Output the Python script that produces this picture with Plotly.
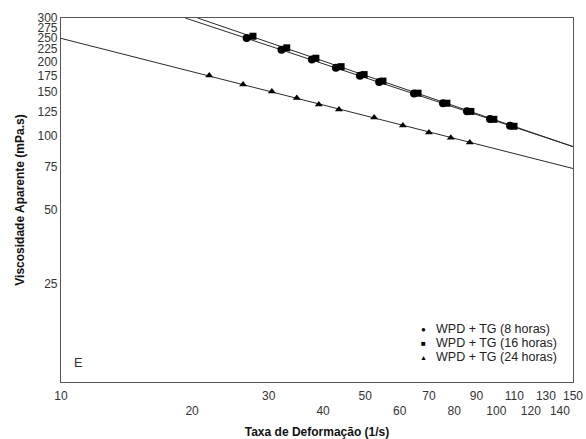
import plotly.graph_objects as go

# ---- data ----
x_8h = [26.7, 32.1, 37.7, 42.8, 48.6, 53.8, 64.7, 75.4, 85.6, 96.7, 107.5]
y_8h = [249.0, 223.0, 203.5, 188.6, 175.0, 165.0, 148.1, 135.2, 125.4, 116.8, 109.7]
x_16h = [27.6, 33.0, 38.5, 44.0, 49.7, 54.9, 66.1, 77.0, 87.4, 98.7, 109.8]
y_16h = [253.0, 227.0, 206.0, 190.4, 176.8, 166.4, 148.6, 135.3, 125.3, 116.4, 109.1]
x_24h = [21.9, 26.2, 30.5, 34.8, 39.1, 43.5, 52.4, 61.0, 70.0, 78.6, 86.9]
y_24h = [175.3, 161.2, 151.0, 142.1, 133.7, 127.6, 118.4, 109.8, 102.8, 98.1, 93.7]

# fitted power-law lines (end points)
fit_x_8h = [19.3, 150]
fit_y_8h = [300, 90.2]
fit_x_16h = [20.6, 150]
fit_y_16h = [300, 90.2]
fit_x_24h = [10, 150]
fit_y_24h = [248, 73.5]

x_ticks = [10, 20, 30, 40, 50, 60, 70, 80, 90, 100, 110, 120, 130, 140, 150]
y_ticks = [25, 50, 75, 100, 125, 150, 175, 200, 225, 250, 275, 300]
legend_labels = ["WPD + TG (8 horas)", "WPD + TG (16 horas)", "WPD + TG (24 horas)"]
legend_symbols = ["●", "■", "▲"]
panel_label = "E"

FONT = "Liberation Sans, Arial, sans-serif"
LINE_C = "#2a2a2a"

W, H = 586, 439
ML, MR, MT, MB = 61, 13, 18, 57
PW, PH = W - ML - MR, H - MT - MB

fig = go.Figure()
for fx, fy in [(fit_x_8h, fit_y_8h), (fit_x_16h, fit_y_16h), (fit_x_24h, fit_y_24h)]:
    fig.add_trace(go.Scatter(x=fx, y=fy, mode="lines",
                             line=dict(color=LINE_C, width=1), showlegend=False,
                             hoverinfo="skip"))

fig.add_trace(go.Scatter(x=x_8h, y=y_8h, mode="markers", name=legend_labels[0],
                         marker=dict(symbol="circle", size=8, color="black"), showlegend=False))
fig.add_trace(go.Scatter(x=x_16h, y=y_16h, mode="markers", name=legend_labels[1],
                         marker=dict(symbol="square", size=7, color="black"), showlegend=False))
fig.add_trace(go.Scatter(x=x_24h, y=y_24h, mode="markers", name=legend_labels[2],
                         marker=dict(symbol="triangle-up", size=7, color="black"), showlegend=False))

x_text = [("<br>" + str(v)) if i % 2 == 1 else str(v) for i, v in enumerate(x_ticks)]

fig.update_layout(
    width=W, height=H,
    margin=dict(l=ML, r=MR, t=MT, b=MB),
    paper_bgcolor="white", plot_bgcolor="white",
    font=dict(family=FONT, size=12, color="#333"),
    showlegend=False,
    xaxis=dict(type="log", range=[1, 2.1760913], tickvals=x_ticks, ticktext=x_text,
               tickangle=0, ticks="", showgrid=False, zeroline=False, automargin=False,
               ticklabelstandoff=2,
               showline=True, linecolor="#555", linewidth=1.2, mirror=True,
               tickfont=dict(size=12, color="#333"),
               title=dict(text="<b>Taxa de Deformação (1/s)</b>", standoff=12,
                          font=dict(size=12, color="#111"))),
    yaxis=dict(type="log", range=[1, 2.4771213], tickvals=y_ticks,
               ticktext=[str(v) for v in y_ticks],
               ticks="", showgrid=False, zeroline=False, automargin=False,
               showline=True, linecolor="#555", linewidth=1.2, mirror=True,
               tickfont=dict(size=12, color="#333"),
               title=dict(text="<b>Viscosidade Aparente (mPa.s)</b>", standoff=10,
                          font=dict(size=12, color="#111"))),
)

# legend drawn as text rows (positions in page pixels)
row_y = [329, 343, 357]
sym_sizes = [8, 8, 7]
for lab, sym, yy, ss in zip(legend_labels, legend_symbols, row_y, sym_sizes):
    yp = 1 - (yy - MT) / PH
    fig.add_annotation(xref="paper", yref="paper", x=(423 - ML) / PW, y=yp,
                       text=sym, showarrow=False, xanchor="center", yanchor="middle",
                       font=dict(size=ss, color="black", family=FONT))
    fig.add_annotation(xref="paper", yref="paper", x=(434 - ML) / PW, y=yp,
                       text=lab, showarrow=False, xanchor="left", yanchor="middle",
                       font=dict(size=12.5, color="#222", family=FONT))

fig.add_annotation(xref="paper", yref="paper", x=(72 - ML) / PW, y=1 - (362 - MT) / PH,
                   text=panel_label, showarrow=False, xanchor="left", yanchor="middle",
                   font=dict(size=13, color="#333", family=FONT))

fig.write_html("out.html", config={"displayModeBar": False},
               post_script="document.body.style.margin='0';document.body.style.overflow='hidden';")
